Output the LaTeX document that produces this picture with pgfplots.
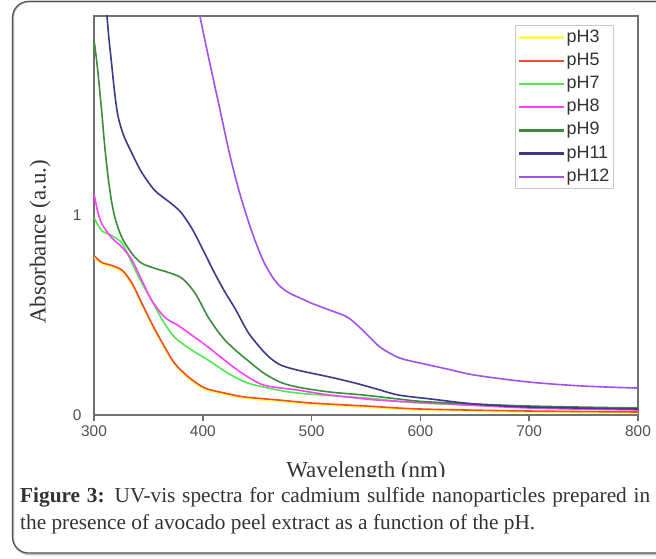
\documentclass[border=0pt]{standalone}
\usepackage{fontspec}
\setmainfont{Liberation Serif}
\setsansfont{Liberation Sans}
\usepackage{pgfplots}
\pgfplotsset{compat=1.18}

\definecolor{cphiii}{HTML}{FFFF4D}
\definecolor{cphv}{HTML}{F24A2E}
\definecolor{cphvii}{HTML}{4DEB4D}
\definecolor{cphviii}{HTML}{FF40FF}
\definecolor{cphix}{HTML}{3C8C3C}
\definecolor{cphxi}{HTML}{3A3A8C}
\definecolor{cphxii}{HTML}{A052EE}
\definecolor{axgray}{HTML}{707070}
\definecolor{ticktext}{HTML}{505050}
\definecolor{labtext}{HTML}{333333}
\definecolor{legframe}{HTML}{C8C8C8}
\definecolor{boxline}{HTML}{505050}

\begin{document}
\begin{tikzpicture}
\useasboundingbox (0bp,0bp) rectangle (656bp,559bp);

\begin{axis}[
  at={(94bp,144bp)}, anchor=south west,
  scale only axis, width=544bp, height=399bp,
  xmin=300, xmax=800, ymin=0, ymax=2,
  xtick={300,400,...,800}, ytick={0,1},
  xtick pos=bottom, ytick pos=left,
  tick align=outside, major tick length=6bp,
  xtick style={draw=axgray, line width=1.6bp},
  ytick style={draw=none},
  axis line style={draw=axgray, line width=1.6bp},
  /pgf/number format/assume math mode=true,
  tick label style={font=\sffamily\fontsize{15.5}{15.5}\selectfont, text=ticktext},
  xticklabel style={yshift=-1bp},
  yticklabel style={xshift=-3bp},
  xlabel={Wavelength (nm)},
  xlabel style={font=\fontsize{23}{23}\selectfont, text=labtext,
    at={(axis description cs:0.5,-0.143)}, anchor=center},
  ylabel={Absorbance (a.u.)},
  ylabel style={font=\fontsize{23}{23}\selectfont, text=labtext,
    at={(axis description cs:-0.099,0.434)}, anchor=center},
  legend style={at={(axis description cs:0.7735,0.977)}, anchor=north west,
    draw=legframe, line width=0.8bp,
    font=\sffamily\fontsize{18}{18}\selectfont, text=labtext,
    inner xsep=3bp, inner ysep=3bp, row sep=5.2bp,
    nodes={inner sep=1bp, text height=12.5bp, text depth=3.5bp}},
  legend cell align=left,
  legend image code/.code={\draw[#1, line width=2.4bp] (0bp,0bp) -- (45bp,0bp);},
  every axis plot/.append style={line width=1.6bp},
]

% thicker left and bottom spines
\draw[axgray, line width=2.6bp] (rel axis cs:0,1) -- (rel axis cs:0,0) -- (rel axis cs:1,0);

\addplot[cphiii, smooth] coordinates {
 (300,0.790) (307,0.757) (316,0.742) (326,0.716) (335,0.652) (344,0.553)
 (353,0.452) (363,0.353) (374,0.253) (387,0.183) (402,0.128) (420,0.103)
 (439,0.083) (470,0.068) (500,0.053) (550,0.038) (600,0.024) (700,0.014)
 (800,0.010)};
\addlegendentry{pH3}

\addplot[cphv, smooth] coordinates {
 (300,0.800) (307,0.765) (316,0.750) (326,0.725) (335,0.660) (344,0.560)
 (353,0.460) (363,0.360) (374,0.260) (387,0.190) (402,0.135) (420,0.110)
 (439,0.090) (470,0.075) (500,0.060) (550,0.045) (600,0.030) (700,0.020)
 (800,0.015)};
\addlegendentry{pH5}

\addplot[cphvii, smooth] coordinates {
 (300,0.990) (307,0.925) (316,0.900) (326,0.860) (335,0.760) (344,0.660)
 (353,0.575) (363,0.475) (374,0.390) (390,0.325) (405,0.275) (423,0.210)
 (439,0.165) (456,0.140) (487,0.110) (550,0.085) (600,0.060) (700,0.040)
 (800,0.030)};
\addlegendentry{pH7}

\addplot[cphviii, smooth] coordinates {
 (300,1.110) (303,1.030) (307,0.960) (316,0.890) (326,0.840) (335,0.775)
 (344,0.675) (353,0.575) (365,0.490) (377,0.450) (390,0.400) (405,0.340)
 (420,0.275) (436,0.210) (456,0.150) (487,0.125) (517,0.100) (560,0.075)
 (610,0.060) (700,0.035) (800,0.025)};
\addlegendentry{pH8}

\addplot[cphix, smooth] coordinates {
 (300,1.880) (303,1.750) (307,1.525) (310,1.340) (313,1.190) (316,1.075)
 (319,0.995) (322,0.940) (326,0.885) (331,0.840) (337,0.795) (344,0.760)
 (356,0.735) (368,0.715) (381,0.685) (393,0.610) (405,0.490) (418,0.390)
 (430,0.325) (441,0.275) (456,0.210) (471,0.165) (487,0.140) (517,0.115)
 (548,0.100) (580,0.080) (610,0.065) (700,0.045) (800,0.035)};
\addlegendentry{pH9}

\addplot[cphxi, smooth] coordinates {
 (311,2.060) (313.5,1.900) (316,1.770) (319,1.615) (322,1.500) (327,1.405)
 (335,1.310) (344,1.215) (356,1.125) (371,1.060) (380,1.015) (390,0.935)
 (400,0.830) (410,0.720) (420,0.620) (430,0.530) (441,0.420) (450,0.355)
 (460,0.295) (471,0.252) (487,0.225) (517,0.190) (540,0.160) (560,0.130)
 (580,0.100) (610,0.080) (650,0.055) (700,0.040) (800,0.030)};
\addlegendentry{pH11}

\addplot[cphxii, smooth] coordinates {
 (395,2.060) (405,1.800) (416,1.525) (425,1.300) (434,1.110) (445,0.920)
 (455,0.780) (463,0.700) (471,0.645) (480,0.610) (490,0.585) (500,0.560)
 (517,0.525) (533,0.490) (547,0.425) (563,0.340) (579,0.290) (590,0.272)
 (600,0.260) (625,0.230) (650,0.200) (700,0.165) (750,0.145) (800,0.135)};
\addlegendentry{pH12}
\end{axis}

% the figure panel is cut off just below the axis title
\fill[white] (90bp,74bp) rectangle (645bp,81.5bp);

% caption
\node[anchor=north west, text width=630bp, align=justify, inner sep=0pt,
      font=\fontsize{21.4}{27}\selectfont, text=labtext] at (20bp,71.5bp)
  {\textbf{Figure 3:} UV-vis spectra for cadmium sulfide nanoparticles prepared in\linebreak the presence of avocado peel extract as a function of the pH.};

% rounded panel frame
\draw[black!25, line width=1.6bp, rounded corners=16bp] (13.5bp,4.5bp) rectangle (680bp,557.5bp);
\draw[boxline, line width=1.2bp, rounded corners=16bp] (12.5bp,6bp) rectangle (680bp,557.5bp);
\end{tikzpicture}
\end{document}
